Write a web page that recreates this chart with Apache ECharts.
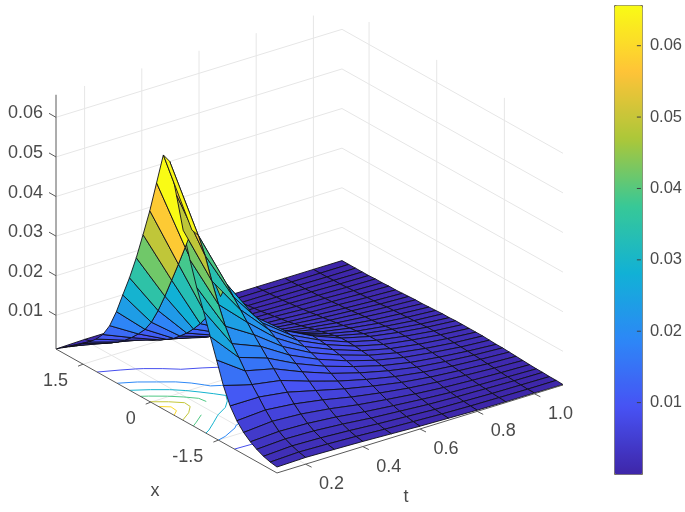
<!DOCTYPE html>
<html>
<head>
<meta charset="utf-8">
<style>html,body{margin:0;padding:0;background:#fff}#main{width:685px;height:512px}</style>
<script src="https://cdn.jsdelivr.net/npm/echarts@6/dist/echarts.min.js"></script>
</head>
<body>
<div id="main"></div>
<script>
// mesh values
let xGrid = [2.10,1.95,1.80,1.65,1.51,1.36,1.21,1.06,0.91,0.76,0.62,0.47,0.32,0.17,0.02,-0.13,-0.28,-0.42,-0.57,-0.72,-0.87,-1.02,-1.17,-1.32,-1.46,-1.61,-1.76,-1.91,-2.06,-2.21,-2.35,-2.50,-2.65,-2.80];
let tGrid = [0.1,0.2,0.3,0.4,0.5,0.6,0.7,0.8,0.9,1.0,1.1];
let zT01 = [.0015,.0028,.0040,.0052,.0066,.0080,.0097,.0118,.0150,.0195,.0246,.0299,.0359,.0427,.0497,.0577,.0657,.0650,.0575,.0495,.0430,.0370,.0320,.0265,.0215,.0160,.0118,.0090,.0070,.0056,.0046,.0038,.0033,.0030];
let zT02 = [.0017,.0022,.0028,.0036,.0046,.0058,.0072,.0088,.0107,.0128,.0155,.0194,.0240,.0290,.0340,.0392,.0445,.0441,.0400,.0345,.0295,.0250,.0215,.0190,.0165,.0140,.0118,.0095,.0076,.0060,.0050,.0042,.0036,.0032];
let zT03 = [.0017,.0020,.0024,.0029,.0035,.0042,.0050,.0060,.0071,.0083,.0098,.0115,.0135,.0158,.0185,.0215,.0255,.0295,.0272,.0250,.0228,.0206,.0186,.0166,.0148,.0128,.0108,.0088,.0072,.0058,.0048,.0040,.0034,.0030];
let zT04 = [.0017,.0019,.0021,.0024,.0028,.0033,.0039,.0046,.0054,.0063,.0074,.0087,.0102,.0120,.0140,.0160,.0178,.0190,.0185,.0177,.0166,.0154,.0142,.0130,.0118,.0104,.0090,.0076,.0063,.0052,.0043,.0036,.0031,.0028];
let zT05 = [.0017,.0018,.0020,.0022,.0025,.0029,.0033,.0038,.0044,.0051,.0059,.0069,.0080,.0092,.0105,.0117,.0127,.0134,.0132,.0128,.0122,.0116,.0109,.0101,.0092,.0082,.0072,.0061,.0051,.0043,.0036,.0031,.0027,.0025];
let zT06 = [.0017,.0018,.0019,.0021,.0023,.0026,.0029,.0033,.0037,.0042,.0048,.0054,.0061,.0069,.0077,.0085,.0092,.0098,.0097,.0095,.0092,.0088,.0083,.0078,.0071,.0064,.0057,.0049,.0042,.0036,.0031,.0027,.0024,.0022];
let zT07 = [.0016,.0017,.0018,.0020,.0022,.0024,.0027,.0030,.0033,.0036,.0040,.0044,.0049,.0054,.0058,.0063,.0067,.0070,.0070,.0069,.0067,.0065,.0062,.0058,.0054,.0049,.0044,.0039,.0034,.0030,.0026,.0023,.0021,.0020];
let zT08 = [.0016,.0017,.0018,.0019,.0020,.0022,.0024,.0026,.0028,.0031,.0033,.0036,.0039,.0042,.0045,.0047,.0050,.0052,.0052,.0051,.0050,.0049,.0047,.0044,.0041,.0038,.0035,.0032,.0028,.0025,.0023,.0021,.0019,.0018];
let zT09 = [.0016,.0016,.0017,.0018,.0019,.0020,.0022,.0023,.0025,.0026,.0028,.0030,.0032,.0033,.0035,.0037,.0039,.0040,.0040,.0040,.0039,.0038,.0037,.0035,.0033,.0031,.0029,.0027,.0024,.0022,.0021,.0019,.0018,.0017];
let zT10 = [.0016,.0016,.0016,.0017,.0017,.0018,.0019,.0020,.0021,.0022,.0023,.0025,.0026,.0027,.0028,.0029,.0030,.0031,.0031,.0031,.0031,.0030,.0029,.0028,.0027,.0026,.0024,.0023,.0021,.0020,.0019,.0018,.0017,.0017];
let zT11 = [.0016,.0016,.0016,.0016,.0016,.0017,.0017,.0018,.0018,.0019,.0020,.0021,.0021,.0022,.0023,.0024,.0024,.0025,.0025,.0025,.0025,.0025,.0024,.0023,.0023,.0022,.0021,.0020,.0019,.0018,.0018,.0017,.0017,.0016];
let zRows = [zT01,zT02,zT03,zT04,zT05,zT06,zT07,zT08,zT09,zT10,zT11];

let xTicks = [1.5,0,-1.5];
let tTicks = [0.2,0.4,0.6,0.8,1.0];
let zTicks = [0.01,0.02,0.03,0.04,0.05,0.06];
let contourLevels = [0.01,0.02,0.03,0.04,0.05,0.06];
let barTicks = [0.01,0.02,0.03,0.04,0.05,0.06];
let parula = ['#3E26A8','#4752F4','#2D87F7','#11B1D6','#37C897','#ABC739','#FEC338','#F9FB15'];

let xMax = 2.1, xMin = -2.8, tMin = 0.1, tMax = 1.1, zMin = 0.0015, zMax = 0.0657;

// view of the box, in pixels per data unit
function project(x, t, z) {
    return [
        56 + (xMax - x) * 45.1 + (t - tMin) * 286,
        349 + (xMax - x) * 25.3 - (t - tMin) * 88 - (z - zMin) * 3960
    ];
}
// far cells first
function depth(x, t, z) {
    return 72611 * (x - xMin) / 4.9 + 55913 * (t - tMin) - 56141 * (z - zMin) / 0.0642;
}

// surface cells, colour from the first corner of each cell as surf does
let cells = [];
for (let j = 0; j < tGrid.length - 1; j++) {
    for (let i = 0; i < xGrid.length - 1; i++) {
        let mx = (xGrid[i] + xGrid[i + 1]) / 2;
        let mt = (tGrid[j] + tGrid[j + 1]) / 2;
        let mz = (zRows[j][i] + zRows[j][i + 1] + zRows[j + 1][i] + zRows[j + 1][i + 1]) / 4;
        cells.push({d: depth(mx, mt, mz), v: [i, j, 0, 0, zRows[j][i + 1]]});
    }
}
cells.sort(function (a, b) { return b.d - a.d; });
let cellData = cells.map(function (c) { return c.v; });

// contours on the floor, marching squares over the same mesh
function edgePoint(x1, t1, a, x2, t2, b, lev) {
    let f = (lev - a) / (b - a);
    return [x1 + (x2 - x1) * f, t1 + (t2 - t1) * f];
}
let contourData = [];
contourLevels.forEach(function (lev) {
    for (let j = 0; j < tGrid.length - 1; j++) {
        for (let i = 0; i < xGrid.length - 1; i++) {
            let x0 = xGrid[i], x1 = xGrid[i + 1], t0 = tGrid[j], t1 = tGrid[j + 1];
            let a = zRows[j][i], b = zRows[j][i + 1], c = zRows[j + 1][i + 1], d = zRows[j + 1][i];
            let pts = [];
            if ((a - lev) * (b - lev) < 0) pts.push(edgePoint(x0, t0, a, x1, t0, b, lev));
            if ((b - lev) * (c - lev) < 0) pts.push(edgePoint(x1, t0, b, x1, t1, c, lev));
            if ((c - lev) * (d - lev) < 0) pts.push(edgePoint(x1, t1, c, x0, t1, d, lev));
            if ((d - lev) * (a - lev) < 0) pts.push(edgePoint(x0, t1, d, x0, t0, a, lev));
            for (let k = 0; k + 1 < pts.length; k += 2) {
                contourData.push([pts[k][0], pts[k][1], pts[k + 1][0], pts[k + 1][1], lev]);
            }
        }
    }
});

// box grid lines
let gridData = [];
xTicks.forEach(function (x) {
    gridData.push([x, tMin, zMin, x, tMax, zMin]);
    gridData.push([x, tMax, zMin, x, tMax, zMax]);
});
tTicks.forEach(function (t) {
    gridData.push([xMin, t, zMin, xMax, t, zMin]);
    gridData.push([xMax, t, zMin, xMax, t, zMax]);
});
zTicks.forEach(function (z) {
    gridData.push([xMax, tMin, z, xMax, tMax, z]);
    gridData.push([xMax, tMax, z, xMin, tMax, z]);
});

// axis lines
let axisData = [
    [xMax, tMin, zMin, xMax, tMin, zMax],
    [xMax, tMin, zMin, xMin, tMin, zMin],
    [xMin, tMin, zMin, xMin, tMax, zMin]
];
let tickData = [];
xTicks.forEach(function (x) { tickData.push([x, tMin, zMin, -5, 2]); });
tTicks.forEach(function (t) { tickData.push([xMin, t, zMin, 6, 3]); });
zTicks.forEach(function (z) { tickData.push([xMax, tMin, z, -7, -4]); });

// axis text
let labelData = [];
xTicks.forEach(function (x) {
    let p = project(x, tMin, zMin);
    labelData.push([p[0] - 15, p[1] + 17, x.toFixed(1).replace('0.0', '0'), 'right', 18]);
});
tTicks.forEach(function (t) {
    let p = project(xMin, t, zMin);
    labelData.push([p[0] + 26, p[1] + 20, t.toFixed(1), 'center', 18]);
});
zTicks.forEach(function (z) {
    let p = project(xMax, tMin, z);
    labelData.push([p[0] - 13, p[1] - 4, z.toFixed(2), 'right', 18]);
});
labelData.push([155, 491, 'x', 'center', 18]);
labelData.push([406, 497, 't', 'center', 18]);

function lineRender(color, width) {
    return function (params, api) {
        let a = project(api.value(0), api.value(1), api.value(2));
        let b = project(api.value(3), api.value(4), api.value(5));
        let p1 = api.coord(a), p2 = api.coord(b);
        return {type: 'line', silent: true, shape: {x1: p1[0], y1: p1[1], x2: p2[0], y2: p2[1]},
            style: {stroke: color, lineWidth: width}};
    };
}

let myChart = echarts.init(document.getElementById('main'));
let option = {
    animation: false,
    grid: [
        {left: 0, top: 0, width: 685, height: 512, show: false},
        {left: 614, top: 5, width: 28, height: 469, show: false}
    ],
    xAxis: [
        {type: 'value', min: 0, max: 685, show: false, gridIndex: 0},
        {type: 'value', min: 0, max: 1, show: false, gridIndex: 1}
    ],
    yAxis: [
        {type: 'value', min: 0, max: 512, inverse: true, show: false, gridIndex: 0},
        {
            type: 'value', min: 0, max: zMax, gridIndex: 1, position: 'right',
            splitLine: {show: false},
            axisLine: {show: false},
            axisTick: {show: false},
            axisLabel: {
                show: true, customValues: barTicks, margin: 9, color: '#4a4a4a', fontSize: 16.5,
                fontFamily: 'Liberation Sans',
                formatter: function (v) { return v.toFixed(2); }
            }
        }
    ],
    visualMap: {
        type: 'continuous', min: zMin, max: zMax, dimension: 4, seriesIndex: [1, 2],
        left: 614, top: 5, itemWidth: 28, itemHeight: 469, padding: 0,
        calculable: false, realtime: false, hoverLink: false,
        text: null, showLabel: false, borderColor: '#77705a', borderWidth: 1,
        inRange: {color: parula}
    },
    series: [
        {   // grid on the box walls and floor
            type: 'custom', z: 1, silent: true, data: gridData, clip: false,
            renderItem: lineRender('#e6e6e6', 1)
        },
        {   // floor contours
            type: 'custom', z: 2, silent: true, data: contourData, clip: false,
            renderItem: function (params, api) {
                let p1 = api.coord(project(api.value(0), api.value(1), zMin));
                let p2 = api.coord(project(api.value(2), api.value(3), zMin));
                return {type: 'line', shape: {x1: p1[0], y1: p1[1], x2: p2[0], y2: p2[1]},
                    style: {stroke: api.visual('color'), lineWidth: 1}};
            }
        },
        {   // surface
            type: 'custom', z: 3, silent: true, data: cellData, clip: false,
            renderItem: function (params, api) {
                let i = api.value(0), j = api.value(1);
                let pts = [
                    project(xGrid[i], tGrid[j], zRows[j][i]),
                    project(xGrid[i + 1], tGrid[j], zRows[j][i + 1]),
                    project(xGrid[i + 1], tGrid[j + 1], zRows[j + 1][i + 1]),
                    project(xGrid[i], tGrid[j + 1], zRows[j + 1][i])
                ].map(function (p) { return api.coord(p); });
                return {type: 'polygon', shape: {points: pts},
                    style: {fill: api.visual('color'), stroke: '#10101a', lineWidth: 0.9}};
            }
        },
        {   // axis lines
            type: 'custom', z: 4, silent: true, data: axisData, clip: false,
            renderItem: lineRender('#5a5a5a', 1)
        },
        {   // tick marks
            type: 'custom', z: 4, silent: true, data: tickData, clip: false,
            renderItem: function (params, api) {
                let a = api.coord(project(api.value(0), api.value(1), api.value(2)));
                return {type: 'line', shape: {x1: a[0], y1: a[1], x2: a[0] + api.value(3), y2: a[1] + api.value(4)},
                    style: {stroke: '#5a5a5a', lineWidth: 1}};
            }
        },
        {   // tick labels and axis names
            type: 'custom', z: 5, silent: true, data: labelData, clip: false,
            encode: {x: 0, y: 1},
            renderItem: function (params, api) {
                let p = api.coord([api.value(0), api.value(1)]);
                let d = labelData[params.dataIndex];
                return {type: 'text', x: p[0], y: p[1], style: {
                    text: d[2], align: d[3], verticalAlign: 'middle', fill: '#4a4a4a',
                    font: d[4] + 'px "Liberation Sans"'
                }};
            }
        },
        {   // colorbar ticks on its right edge, above the bar
            type: 'custom', z: 20, silent: true, clip: false,
            xAxisIndex: 1, yAxisIndex: 1,
            data: barTicks.map(function (v) { return [1, v]; }),
            renderItem: function (params, api) {
                let p = api.coord([api.value(0), api.value(1)]);
                return {type: 'line', shape: {x1: p[0] - 4, y1: p[1], x2: p[0], y2: p[1]},
                    style: {stroke: '#404040', lineWidth: 1}};
            }
        }
    ]
};
myChart.setOption(option);
</script>
</body>
</html>
